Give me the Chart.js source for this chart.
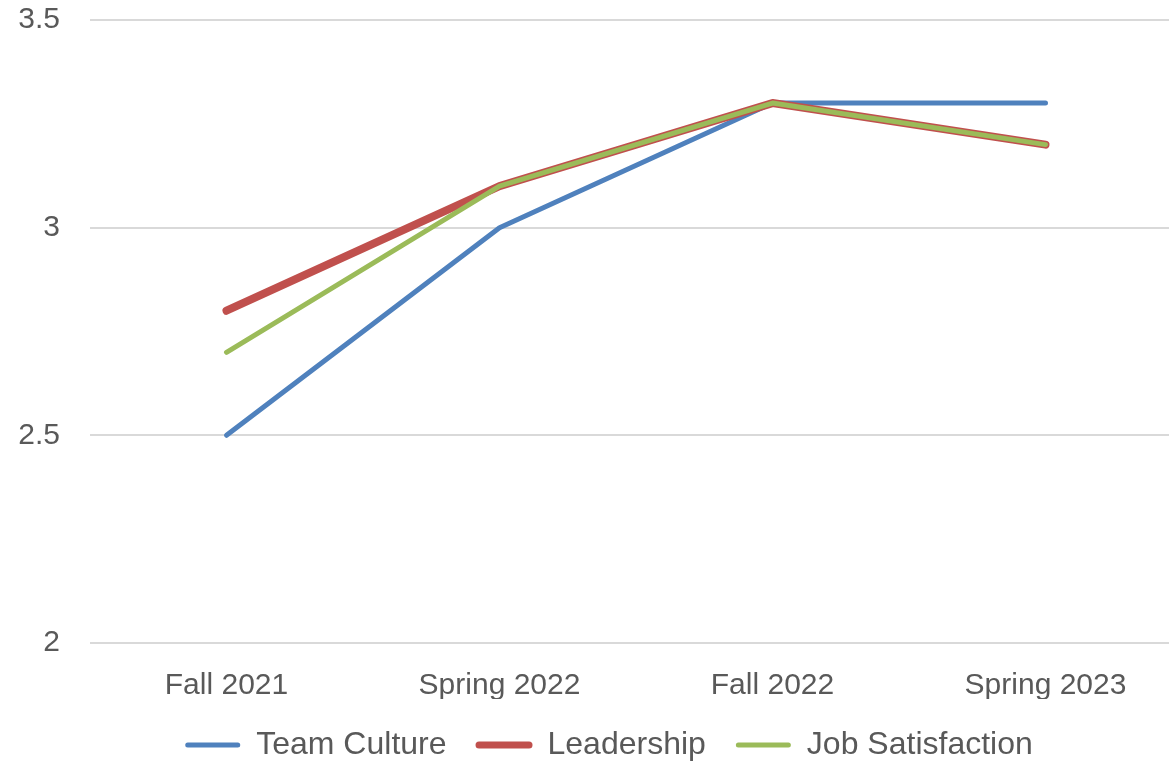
<!DOCTYPE html>
<html>
<head>
<meta charset="utf-8">
<script src="https://cdn.jsdelivr.net/npm/chart.js@4"></script>
<style>
  html, body { margin: 0; padding: 0; background: #fff; overflow: hidden; }
  /* slightly larger than the window; the legend's bottom padding falls outside */
  #wrap { width: 1182px; height: 771px; position: relative; }
</style>
</head>
<body>
<div id="wrap"><canvas id="chart"></canvas></div>
<script>
// survey scores per term
const terms = ['Fall 2021', 'Spring 2022', 'Fall 2022', 'Spring 2023'];
const teamCulture = [2.5, 3.0, 3.3, 3.3];
const leadership = [2.8, 3.1, 3.3, 3.2];
const jobSatisfaction = [2.7, 3.1, 3.3, 3.2];
const yTicks = [2, 2.5, 3, 3.5];

const textColor = '#595959';
const fontFamily = "'Liberation Sans', Arial, sans-serif";

// leadership is drawn thicker and underneath, the other two on top
const series = [
    { label: 'Team Culture', data: teamCulture, color: '#4F81BD', width: 5, order: 3 },
    { label: 'Leadership', data: leadership, color: '#C0504D', width: 8, order: 2 },
    { label: 'Job Satisfaction', data: jobSatisfaction, color: '#9BBB59', width: 5, order: 1 }
];

// nudge the legend a little right, like the original
const legendShift = {
    id: 'legendShift',
    afterLayout(chart) {
        chart.legend.left += 18;
        chart.legend.right += 18;
    }
};

new Chart(document.getElementById('chart'), {
    type: 'line',
    data: {
        labels: terms,
        datasets: series.map(s => ({
            label: s.label,
            data: s.data,
            borderColor: s.color,
            backgroundColor: s.color,
            borderWidth: s.width,
            borderCapStyle: 'round',
            borderJoinStyle: 'round',
            pointRadius: 0,
            tension: 0,
            order: s.order
        }))
    },
    plugins: [legendShift],
    options: {
        responsive: true,
        maintainAspectRatio: false,
        animation: false,
        layout: { padding: { top: 20, left: 0, right: 0, bottom: 0 } },
        plugins: {
            legend: {
                position: 'bottom',
                labels: {
                    color: textColor,
                    font: { family: fontFamily, size: 32 },
                    boxWidth: 55,
                    boxHeight: 5,
                    padding: 30,
                    // keep data order, draw symbols as rounded lines
                    generateLabels: (chart) => series.map((s, i) => ({
                        text: s.label,
                        fillStyle: s.color,
                        strokeStyle: s.color,
                        fontColor: textColor,
                        lineWidth: s.width > 6 ? 2 : 0,
                        borderRadius: 2.5,
                        hidden: !chart.isDatasetVisible(i),
                        datasetIndex: i
                    }))
                }
            },
            tooltip: { enabled: false }
        },
        scales: {
            x: {
                offset: true,
                afterFit: (axis) => { axis.height = 56; },
                grid: { display: false, offset: true, drawTicks: false },
                border: { display: false },
                ticks: {
                    color: textColor,
                    font: { family: fontFamily, size: 30 },
                    padding: 25
                }
            },
            y: {
                min: 2,
                max: 3.5,
                afterBuildTicks: (axis) => { axis.ticks = yTicks.map(v => ({ value: v })); },
                afterFit: (axis) => {
                    axis.width = 90;
                    axis.paddingTop = 0;
                    axis.paddingBottom = 0;
                },
                grid: { color: '#d9d9d9', lineWidth: 2, drawTicks: false },
                border: { display: false },
                ticks: {
                    color: textColor,
                    font: { family: fontFamily, size: 30 },
                    padding: 30,
                    callback: (v) => String(v)
                }
            }
        }
    }
});
</script>
</body>
</html>
